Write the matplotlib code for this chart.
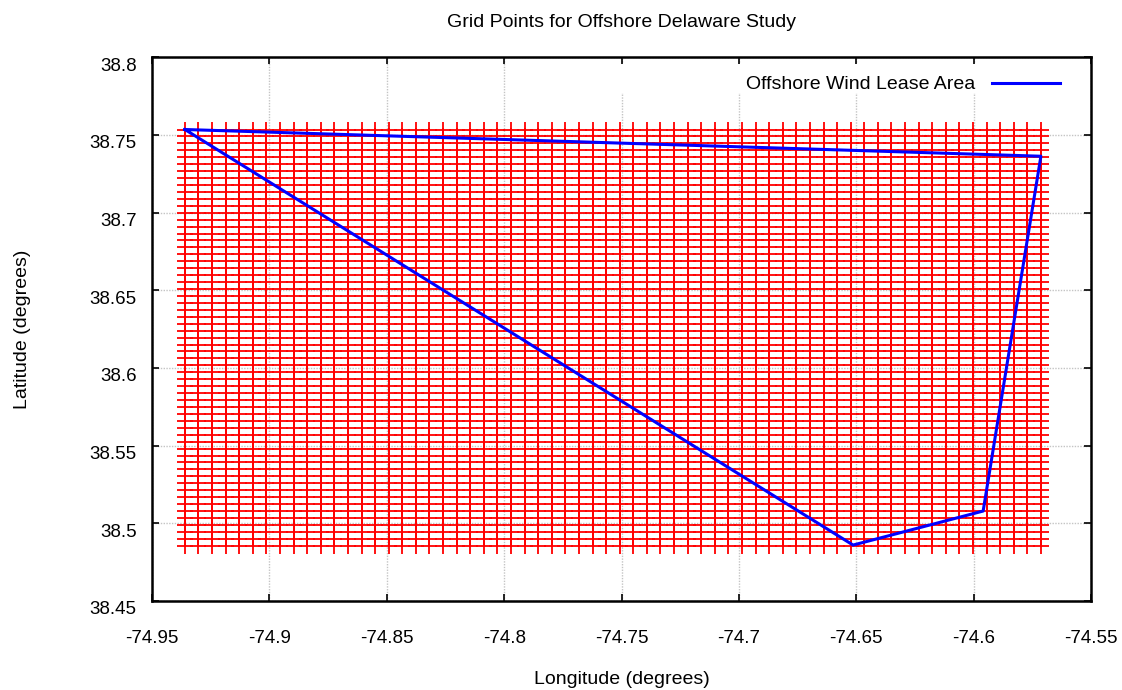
import numpy as np
import matplotlib
matplotlib.use('Agg')
import matplotlib.pyplot as plt
from matplotlib.transforms import ScaledTranslation
from matplotlib.patches import Rectangle

plt.rcParams['font.family'] = ['Liberation Sans', 'DejaVu Sans']

# grid of study points (lon/lat extents and counts)
grid_lon_min, grid_lon_max, n_lon = -74.936, -74.5714, 64
grid_lat_min, grid_lat_max, n_lat = 38.4856, 38.7535, 61

# lease area polygon vertices
lease_lon = [-74.936, -74.5714, -74.596, -74.6514, -74.936]
lease_lat = [38.7535, 38.7363, 38.5079, 38.486, 38.7535]

xticks = [-74.95, -74.9, -74.85, -74.8, -74.75, -74.7, -74.65, -74.6, -74.55]
yticks = [38.45, 38.5, 38.55, 38.6, 38.65, 38.7, 38.75, 38.8]

lon = np.linspace(grid_lon_min, grid_lon_max, n_lon)
lat = np.linspace(grid_lat_min, grid_lat_max, n_lat)
LON, LAT = np.meshgrid(lon, lat)

fig = plt.figure(figsize=(11.22, 6.90), dpi=100)
ax = fig.add_axes([0.1355, 0.129, 0.837, 0.788])

ax.plot(LON.ravel(), LAT.ravel(), linestyle='none', marker='+', color='red',
        markersize=11.5, markeredgewidth=1.3, zorder=2)
ax.plot(lease_lon, lease_lat, color='blue', linewidth=2.2, zorder=4,
        label='Offshore Wind Lease Area')

ax.set_xlim(-74.95, -74.55)
ax.set_ylim(38.45, 38.8)
ax.set_xticks(xticks)
ax.set_yticks(yticks)
ax.set_xticklabels(['%g' % v for v in xticks])
ax.set_yticklabels(['%g' % v for v in yticks])
ax.tick_params(direction='in', length=5, width=1.2, top=True, right=True,
               labelsize=13.5)
ax.tick_params(axis='x', pad=16)
ax.tick_params(axis='y', pad=11)
# gnuplot puts tick labels a bit below their ticks
off = ScaledTranslation(0, -5 / 72, fig.dpi_scale_trans)
for lab in ax.get_yticklabels() + ax.get_xticklabels():
    lab.set_transform(lab.get_transform() + off)
for s in ax.spines.values():
    s.set_linewidth(1.8)
    s.set_zorder(6)

ax.set_axisbelow(True)
ax.grid(True, color='#c4c4c4', linestyle=(0, (1, 1)), linewidth=1.0)

# opaque key box hides the grid behind it (leaves the top ticks visible)
ax.add_patch(Rectangle((0.4345, 0.934), 0.558, 0.053, transform=ax.transAxes,
                       facecolor='white', edgecolor='none', zorder=1))

ax.set_title('Grid Points for Offshore Delaware Study', fontsize=14, pad=22)
ax.set_xlabel('Longitude (degrees)', fontsize=14, labelpad=17)
ax.set_ylabel('Latitude (degrees)', fontsize=14, labelpad=42)

leg = ax.legend(loc='upper right', bbox_to_anchor=(0.967, 0.966),
                markerfirst=False, frameon=False, fontsize=14,
                handlelength=3.5, handletextpad=0.85,
                borderaxespad=0, borderpad=0)
leg.set_zorder(5)

fig.savefig('out.png', dpi=100)
